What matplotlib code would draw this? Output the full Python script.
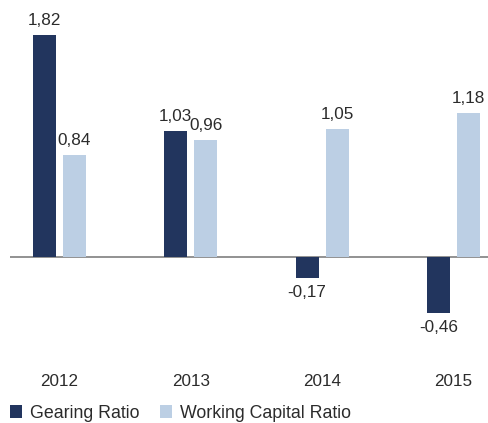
import numpy as np
import matplotlib
matplotlib.use("Agg")
from matplotlib import pyplot as plt

years = ["2012", "2013", "2014", "2015"]
gearing = [1.82, 1.03, -0.17, -0.46]
working_capital = [0.84, 0.96, 1.05, 1.18]

DARK = "#22355e"
LIGHT = "#bccfe4"
TEXT = "#2b2b2b"

plt.rcParams["font.family"] = ["Liberation Sans", "DejaVu Sans"]

W, H = 489, 423
fig = plt.figure(figsize=(W / 100, H / 100), dpi=100)
# axes: left at 10px, right at edge, top at 0px, bottom at 360px, zero line at 257px
ax = fig.add_axes([10 / W, 1 - 360 / H, 1 - 10 / W, 360 / H])
px_per_unit = 122

x = np.arange(len(years))
width = 0.175
offset = 0.114

b1 = ax.bar(x - offset, gearing, width, color=DARK, label="Gearing Ratio")
b2 = ax.bar(x + offset, working_capital, width, color=LIGHT, label="Working Capital Ratio")

fmt = lambda v: f"{v:.2f}".replace(".", ",")
ax.bar_label(b1, labels=[fmt(v) for v in gearing], padding=5, fontsize=12.3, color=TEXT)
ax.bar_label(b2, labels=[fmt(v) for v in working_capital], padding=5, fontsize=12.3, color=TEXT)

ax.axhline(0, color="#7f7f7f", linewidth=1.2, zorder=0)

ax.set_xlim(-0.377, 3.271)
ax.set_ylim(-103 / px_per_unit, 257 / px_per_unit)

ax.set_xticks(x)
ax.set_xticklabels(years, fontsize=12.3, color=TEXT)
ax.tick_params(axis="x", length=0, pad=10)
ax.set_yticks([])
for s in ax.spines.values():
    s.set_visible(False)

fig.legend(loc="center left", bbox_to_anchor=(10 / W, 10 / H), ncol=2, frameon=False,
           fontsize=12.8, handlelength=0.7, handleheight=0.7, handletextpad=0.45,
           columnspacing=1.1, borderaxespad=0, borderpad=0, labelcolor=TEXT)

fig.savefig("out.png", dpi=100)
